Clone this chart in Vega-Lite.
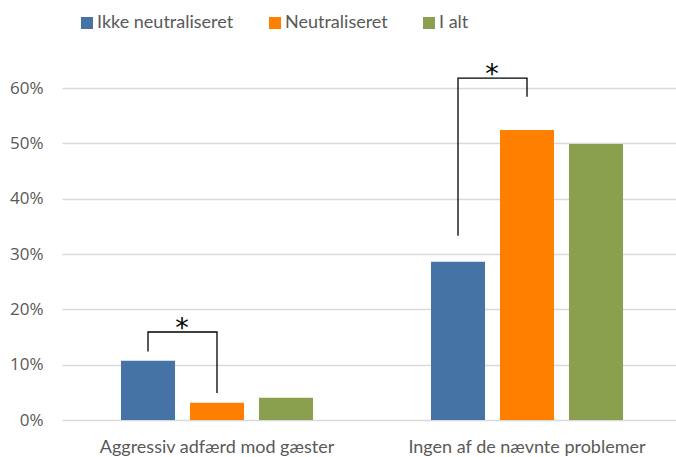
{
  "$schema": "https://vega.github.io/schema/vega-lite/v6.json",
  "width": 614,
  "height": 332,
  "autosize": {"type": "none"},
  "padding": {"left": 62, "top": 88, "right": 0, "bottom": 37},
  "background": "white",
  "config": {"view": {"stroke": null}},
  "datasets": {
    "bars": [
      {"category": "Aggressiv adfærd mod gæster", "series": "Ikke neutraliseret", "value": 0.107},
      {"category": "Aggressiv adfærd mod gæster", "series": "Neutraliseret", "value": 0.031},
      {"category": "Aggressiv adfærd mod gæster", "series": "I alt", "value": 0.040},
      {"category": "Ingen af de nævnte problemer", "series": "Ikke neutraliseret", "value": 0.286},
      {"category": "Ingen af de nævnte problemer", "series": "Neutraliseret", "value": 0.524},
      {"category": "Ingen af de nævnte problemer", "series": "I alt", "value": 0.499}
    ],
    "brackets": [
      {"id": "b1", "category": "Aggressiv adfærd mod gæster", "series": "Ikke neutraliseret", "value": 0.124, "step": 1},
      {"id": "b1", "category": "Aggressiv adfærd mod gæster", "series": "Ikke neutraliseret", "value": 0.159, "step": 2},
      {"id": "b1", "category": "Aggressiv adfærd mod gæster", "series": "Neutraliseret", "value": 0.159, "step": 3},
      {"id": "b1", "category": "Aggressiv adfærd mod gæster", "series": "Neutraliseret", "value": 0.049, "step": 4},
      {"id": "b2", "category": "Ingen af de nævnte problemer", "series": "Ikke neutraliseret", "value": 0.333, "step": 1},
      {"id": "b2", "category": "Ingen af de nævnte problemer", "series": "Ikke neutraliseret", "value": 0.618, "step": 2},
      {"id": "b2", "category": "Ingen af de nævnte problemer", "series": "Neutraliseret", "value": 0.618, "step": 3},
      {"id": "b2", "category": "Ingen af de nævnte problemer", "series": "Neutraliseret", "value": 0.584, "step": 4}
    ],
    "stars": [
      {"category": "Aggressiv adfærd mod gæster", "series": "Ikke neutraliseret", "value": 0.159, "label": "*"},
      {"category": "Ingen af de nævnte problemer", "series": "Ikke neutraliseret", "value": 0.618, "label": "*"}
    ]
  },
  "encoding": {
    "x": {
      "field": "category",
      "type": "nominal",
      "sort": null,
      "scale": {"range": [0, 620], "paddingInner": 0, "paddingOuter": 0},
      "axis": {
        "title": null,
        "domain": false,
        "ticks": false,
        "labelAngle": 0,
        "labelLimit": 0,
        "labelFont": "Lato",
        "labelFontSize": 18,
        "labelColor": "#595959",
        "labelPadding": 18
      }
    },
    "xOffset": {
      "field": "series",
      "type": "nominal",
      "sort": ["Ikke neutraliseret", "Neutraliseret", "I alt"],
      "scale": {"paddingInner": 0.217, "paddingOuter": 0.855}
    },
    "y": {
      "field": "value",
      "type": "quantitative",
      "scale": {"domain": [0, 0.6], "nice": false},
      "axis": {
        "title": null,
        "format": ".0%",
        "values": [0, 0.1, 0.2, 0.3, 0.4, 0.5, 0.6],
        "domain": false,
        "ticks": false,
        "labelPadding": 19,
        "labelFont": "Open Sans",
        "labelFontSize": 17,
        "labelColor": "#595959",
        "gridColor": "#d9d9d9",
        "gridWidth": 1.3
      }
    }
  },
  "layer": [
    {
      "data": {"name": "bars"},
      "mark": {"type": "bar", "clip": false},
      "encoding": {
        "color": {
          "field": "series",
          "type": "nominal",
          "sort": ["Ikke neutraliseret", "Neutraliseret", "I alt"],
          "scale": {"domain": ["Ikke neutraliseret", "Neutraliseret", "I alt"], "range": ["#4673A5", "#FF7F00", "#8BA04E"]},
          "legend": {
            "title": null,
            "orient": "none",
            "direction": "horizontal",
            "legendX": 16,
            "legendY": -74,
            "padding": 0,
            "symbolType": "square",
            "symbolSize": 144,
            "symbolStrokeWidth": 0,
            "symbolOpacity": 1,
            "labelFont": "Lato",
            "labelFontSize": 18,
            "labelColor": "#595959",
            "labelOffset": 1,
            "labelLimit": 0,
            "columnPadding": 32
          }
        }
      }
    },
    {
      "data": {"name": "brackets"},
      "mark": {"type": "line", "color": "#000000", "strokeWidth": 1.3, "clip": false, "interpolate": "linear"},
      "encoding": {
        "detail": {"field": "id", "type": "nominal"},
        "order": {"field": "step", "type": "quantitative"}
      }
    },
    {
      "data": {"name": "stars"},
      "mark": {"type": "text", "fontSize": 27, "font": "DejaVu Sans", "color": "#000000", "baseline": "alphabetic", "dy": 5, "dx": 34, "align": "center"},
      "encoding": {
        "text": {"field": "label"}
      }
    }
  ]
}
